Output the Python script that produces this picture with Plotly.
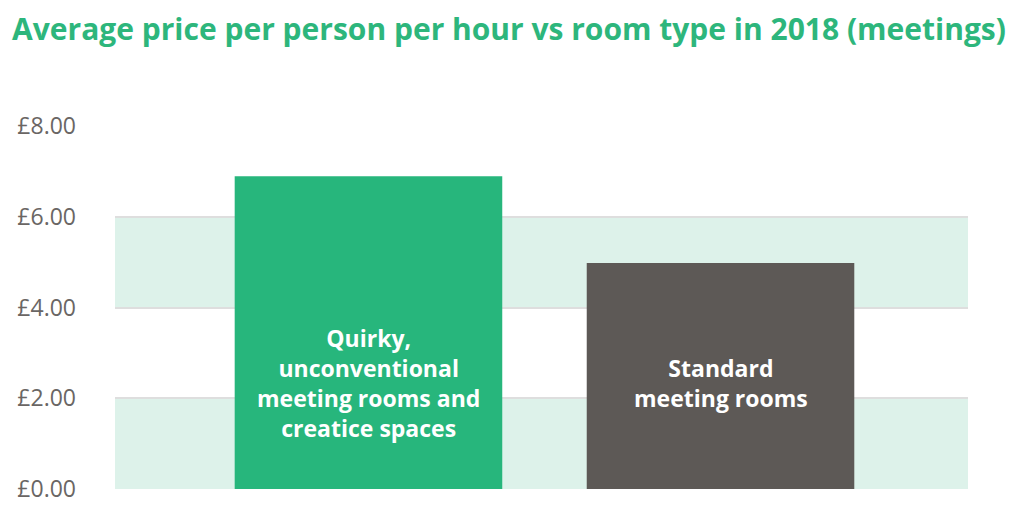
import plotly.graph_objects as go

# data
rooms = ["Quirky,<br>unconventional<br>meeting rooms and<br>creatice spaces",
         "Standard<br>meeting rooms"]
prices = [6.89, 4.98]
bar_colors = ["#27B67C", "#5D5956"]
y_ticks = [0, 2, 4, 6, 8]
y_labels = ["£%.2f" % v for v in y_ticks]

xs = list(range(len(rooms)))

fig = go.Figure(go.Bar(
    x=xs, y=prices, width=0.76,
    marker=dict(color=bar_colors, line=dict(width=0)),
    hoverinfo="skip"))

# alternating light green bands
for lo, hi in [(0, 2), (4, 6)]:
    fig.add_shape(type="rect", xref="paper", yref="y", x0=0, x1=1, y0=lo, y1=hi,
                  fillcolor="#DDF2EA", line_width=0, layer="below")

for x, label in zip(xs, rooms):
    fig.add_annotation(x=x, y=2.33, text="<b>" + label + "</b>", showarrow=False,
                       font=dict(family="Open Sans", size=23, color="white"),
                       align="center")

# page body has an 8px margin, so the figure is a bit smaller than the window
fig.update_layout(
    width=1016, height=504,
    paper_bgcolor="white", plot_bgcolor="rgba(0,0,0,0)",
    margin=dict(l=107, r=56, t=118, b=23),
    showlegend=False,
    title=dict(text="<b>Average price per person per hour vs room type in 2018 (meetings)</b>",
               x=0.004, xanchor="left", y=0.978, yanchor="top",
               font=dict(family="Open Sans", size=30, color="#2DB67C")),
    xaxis=dict(range=[-0.72, 1.703], showticklabels=False, showgrid=False,
               zeroline=False, fixedrange=True, automargin=False),
    yaxis=dict(range=[0, 8], tickvals=y_ticks, ticktext=y_labels,
               showgrid=True, gridcolor="#DEDEDE", gridwidth=1.5, zeroline=False,
               tickfont=dict(family="Open Sans", size=23, color="#6A6664"),
               ticklabelstandoff=38, fixedrange=True, automargin=False,
               layer="above traces"),
)

fig.write_html("out.html")
